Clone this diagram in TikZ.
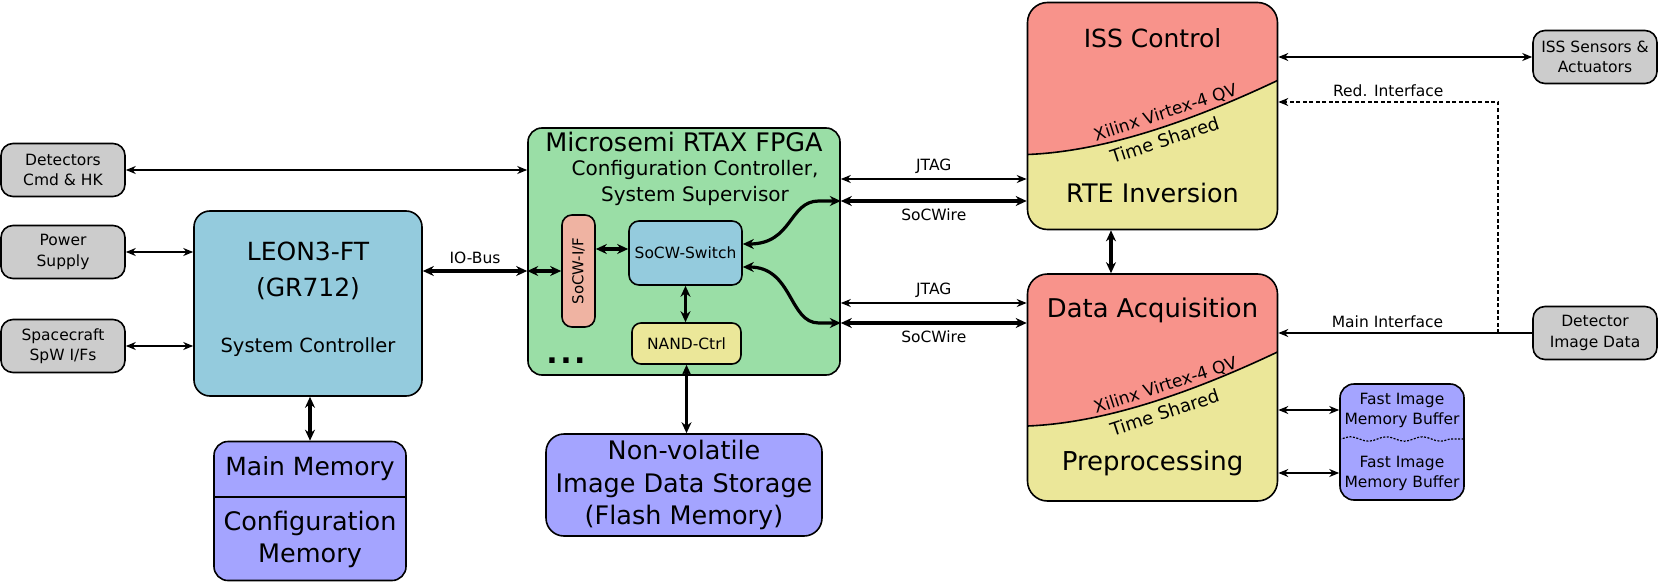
\documentclass[tikz,border=0pt]{standalone}
\usepackage{fontspec}
\setmainfont{DejaVu Sans}
\usetikzlibrary{arrows.meta,positioning,calc,decorations.pathmorphing}
\definecolor{Gry}{HTML}{CCCCCC}
\definecolor{Sky}{HTML}{94CBDD}
\definecolor{Mint}{HTML}{9ADEA6}
\definecolor{Peach}{HTML}{EFB3A2}
\definecolor{Straw}{HTML}{EBE799}
\definecolor{Rose}{HTML}{F8938B}
\definecolor{Lilac}{HTML}{A4A4FF}

\begin{document}
\begin{tikzpicture}[x=1pt,y=-1pt,
    box/.style={draw,line width=1.6pt,rounded corners=14pt,align=center},
    ext/.style={box,fill=Gry,rounded corners=12pt,minimum width=124pt,minimum height=53pt,
      font=\fontsize{15.5}{20.5}\selectfont},
    split/.style={box,fill=Straw,rounded corners=20pt,minimum width=250pt,minimum height=227pt,
      path picture={
        \fill[Rose,sharp corners] (path picture bounding box.north east)
          -- ([yshift=-78pt]path picture bounding box.north east)
          .. controls +(-98.7pt,-46.7pt) and +(68.7pt,2.7pt) .. ([yshift=-152pt]path picture bounding box.north west)
          -- (path picture bounding box.north west) -- cycle;
        \draw[line width=1.6pt] ([yshift=-78pt]path picture bounding box.north east)
          .. controls +(-98.7pt,-46.7pt) and +(68.7pt,2.7pt) .. ([yshift=-152pt]path picture bounding box.north west);
      }},
    big/.style={font=\fontsize{25}{32}\selectfont,align=center},
    mid/.style={font=\fontsize{20}{26}\selectfont,align=center},
    small/.style={font=\fontsize{15.5}{20}\selectfont,align=center},
    tilt/.style={rotate=18,inner sep=0pt},
    lnk/.style={{Stealth[length=10pt,width=8pt]}-{Stealth[length=10pt,width=8pt]},line width=1.5pt},
    feed/.style={-{Stealth[length=10pt,width=8pt]},line width=1.5pt},
    bus/.style={{Stealth[length=11pt,width=10pt]}-{Stealth[length=11pt,width=10pt]},line width=3.2pt}
  ]
  \useasboundingbox (0,0) rectangle (1661,583);

  % left side
  \node[ext] (det) at (63,170) {Detectors\\Cmd \& HK};
  \node[ext] (pwr) at (63,252) {Power\\Supply};
  \node[ext] (scft) at (63,346) {Spacecraft\\SpW I/Fs};
  \node[box,fill=Sky,minimum width=228pt,minimum height=185pt,rounded corners=16pt] (leon) at (308,303.5) {};
  \node[big,font=\fontsize{25}{36}\selectfont] (leonname) at (308,271) {LEON3-FT\\(GR712)};
  \node[font=\fontsize{19.5}{22}\selectfont] (leonrole) at (308,347) {System Controller};
  \node[box,fill=Lilac,minimum width=192pt,minimum height=139pt] (mem) at (310,511) {};
  \draw[line width=1.6pt] ([yshift=-56pt]mem.north west) -- ([yshift=-56pt]mem.north east);
  \node[big] (memmain) at (310,469) {Main Memory};
  \node[big,font=\fontsize{25.5}{32}\selectfont] (memcfg) at (310,539) {Configuration\\Memory};

  % FPGA
  \node[box,fill=Mint,minimum width=312pt,minimum height=247pt] (fpga) at (684,251.5) {};
  \node[font=\fontsize{25.5}{28}\selectfont] (fpganame) at (684,142) {Microsemi RTAX FPGA};
  \node[mid] (fpgarole) at (695,183) {Configuration Controller,\\System Supervisor};
  \node[box,fill=Peach,rounded corners=10pt,rotate=90,minimum width=112pt,minimum height=33pt,
    font=\fontsize{15}{18}\selectfont] (sif) at (578.5,271) {SoCW-I/F};
  \node[box,fill=Sky,rounded corners=10pt,minimum width=113pt,minimum height=64pt,small] (sw) at (685.5,253) {SoCW-Switch};
  \node[box,fill=Straw,rounded corners=9pt,minimum width=109pt,minimum height=41pt,small] (nand) at (686.5,343.5) {NAND-Ctrl};
  \node[font=\bfseries\fontsize{30}{30}\selectfont,inner sep=0pt] (more) at (566,361) {.\kern2.5pt.\kern2.5pt.};
  \node[box,fill=Lilac,rounded corners=18pt,minimum width=276pt,minimum height=102pt,
    font=\fontsize{25.5}{32.5}\selectfont] (flash) at (684,485) {Non-volatile\\Image Data Storage\\(Flash Memory)};

  % Virtex boxes
  \node[split] (iss) at (1152.5,116) {};
  \node[big] (isstop) at ([yshift=-36pt]iss.north) {ISS Control};
  \node[big,font=\fontsize{25.5}{28}\selectfont] (issbot) at ([yshift=37pt]iss.south) {RTE Inversion};
  \node[tilt,font=\fontsize{17}{18}\selectfont] (issdev) at ([shift={(13pt,3pt)}]iss.center) {Xilinx Virtex-4 QV};
  \node[tilt,font=\fontsize{18}{18}\selectfont] (issshare) at ([shift={(12pt,-24pt)}]iss.center) {Time Shared};
  \node[split] (daq) at (1152.5,387.5) {};
  \node[big,font=\fontsize{25.8}{28}\selectfont] (daqtop) at ([yshift=-37pt]daq.north) {Data Acquisition};
  \node[big,font=\fontsize{26}{28}\selectfont] (daqbot) at ([yshift=38pt]daq.south) {Preprocessing};
  \node[tilt,font=\fontsize{17}{18}\selectfont] (daqdev) at ([shift={(13pt,2pt)}]daq.center) {Xilinx Virtex-4 QV};
  \node[tilt,font=\fontsize{18}{18}\selectfont] (daqshare) at ([shift={(12pt,-25pt)}]daq.center) {Time Shared};

  % right side
  \node[ext] (sens) at (1595,57) {ISS Sensors \&\\Actuators};
  \node[ext] (dimg) at (1595,333) {Detector\\Image Data};
  \node[box,fill=Lilac,minimum width=124pt,minimum height=116pt] (fast) at (1402,442) {};
  \node[small] (fastup) at (1402,410) {Fast Image\\Memory Buffer};
  \node[small] (fastlow) at (1402,473) {Fast Image\\Memory Buffer};
  \draw[dash pattern=on 2pt off 1.5pt,line width=1.2pt,decorate,decoration={snake,amplitude=2.2pt,segment length=36pt}]
    ([yshift=3pt]fast.west) -- ([yshift=3pt]fast.east);

  % links
  \draw[lnk] (det.east) -- (det.east -| fpga.west);
  \draw[lnk] (pwr.east) -- (pwr.east -| leon.west);
  \draw[lnk] (scft.east) -- (scft.east -| leon.west);
  \draw[bus] (sif.north -| leon.east) -- (sif.north -| fpga.west) node[midway,above=2pt,small] {IO-Bus};
  \draw[bus] (sif.north -| fpga.west) -- (sif.north);
  \draw[bus] ([yshift=4pt]sw.west) -- ([yshift=4pt]sw.west -| sif.south);
  \draw[bus] (sw.south) -- (sw.south |- nand.north);
  \draw[bus] (nand.south) -- (nand.south |- flash.north);
  \draw[bus] (leon.south -| mem.north) -- (mem.north);

  \coordinate (sw1) at ([yshift=50.5pt]fpga.east);
  \coordinate (sw2) at ([yshift=-71.5pt]fpga.east);
  \draw[bus] ([yshift=9pt]sw.east) .. controls +(50pt,0pt) and +(-30pt,0pt) .. ([xshift=-22pt]sw1) -- (sw1);
  \draw[bus] ([yshift=-14pt]sw.east) .. controls +(50pt,0pt) and +(-30pt,0pt) .. ([xshift=-22pt]sw2) -- (sw2);
  \draw[lnk] ([yshift=72.5pt]fpga.east) -- ([yshift=72.5pt]fpga.east -| iss.west) node[midway,above=1pt,small] {JTAG};
  \draw[bus] (sw1) -- (sw1 -| iss.west) node[midway,below=3pt,small] {SoCWire};
  \draw[lnk] ([yshift=-51.5pt]fpga.east) -- ([yshift=-51.5pt]fpga.east -| daq.west) node[midway,above=1pt,small] {JTAG};
  \draw[bus] (sw2) -- (sw2 -| daq.west) node[midway,below=3pt,small] {SoCWire};
  \draw[bus] ([xshift=-41.5pt]iss.south) -- ([xshift=-41.5pt]iss.south |- daq.north);

  \draw[lnk] (sens.west) -- (sens.west -| iss.east);
  \coordinate (tap) at ([xshift=-34pt]dimg.west);
  \draw[feed] (dimg.west) -- (dimg.west -| daq.east) node[pos=0.57,above=1pt,small] {Main Interface};
  \draw[feed,dash pattern=on 4pt off 2.5pt] (tap) |- ([yshift=14pt]iss.east) node[pos=0.75,above=1pt,small] {Red. Interface};
  \draw[lnk] ([yshift=32pt]fast.west) -- ([yshift=32pt]fast.west -| daq.east);
  \draw[lnk] ([yshift=-31pt]fast.west) -- ([yshift=-31pt]fast.west -| daq.east);
\end{tikzpicture}
\end{document}
